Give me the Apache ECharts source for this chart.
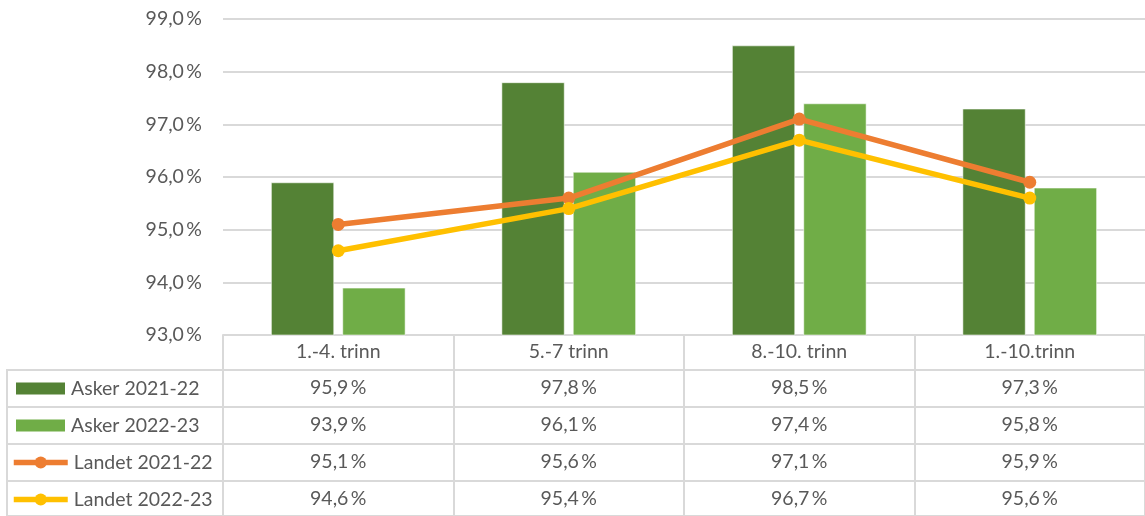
<!DOCTYPE html>
<html>
<head>
<meta charset="utf-8">
<script src="https://cdn.jsdelivr.net/npm/echarts@6/dist/echarts.min.js"></script>
<style>
  html, body { margin: 0; padding: 0; background: #ffffff; }
  #chart { width: 1145px; height: 516px; }
</style>
</head>
<body>
<div id="chart"></div>
<script>
// Attendance by school level (trinn), Asker vs. national figures
const categories = ['1.-4. trinn', '5.-7 trinn', '8.-10. trinn', '1.-10.trinn'];
const seriesNames = ['Asker 2021-22', 'Asker 2022-23', 'Landet 2021-22', 'Landet 2022-23'];
const asker2122 = [95.9, 97.8, 98.5, 97.3];
const asker2223 = [93.9, 96.1, 97.4, 95.8];
const landet2122 = [95.1, 95.6, 97.1, 95.9];
const landet2223 = [94.6, 95.4, 96.7, 95.6];
const yMin = 93, yMax = 99, yStep = 1;

const seriesValues = [asker2122, asker2223, landet2122, landet2223];
const colors = ['#548235', '#70AD47', '#ED7D31', '#FFC000'];

// layout of plot area and data table beneath it
const FONT = 'Lato, "Open Sans", sans-serif';
const TEXT = '#595959';
const RULE = '#d9d9d9';
const LINE_W = 5.5;
const plotLeft = 223, plotTop = 19, axisY = 335, pageH = 516;
const headerH = 35, rowH = 37, tableLeft = 7;
const rowTop = i => axisY + headerH + rowH * i;

const pct = v => v.toFixed(1).replace('.', ',') + '\u2009%';

const grids = [{ left: plotLeft, right: -2, top: plotTop, height: axisY - plotTop }];
seriesNames.forEach((_, i) => {
  grids.push({
    left: tableLeft, right: -2, top: rowTop(i), height: rowH,
    show: true, borderColor: RULE, borderWidth: 2, backgroundColor: 'transparent'
  });
});

// header axis: category names + column rules of the table
const xAxes = [{
  type: 'category', gridIndex: 0, position: 'bottom', data: categories,
  axisLine: { show: true, onZero: false, lineStyle: { color: RULE, width: 2 } },
  axisTick: { show: true, interval: 0, length: pageH - axisY + 4, lineStyle: { color: RULE, width: 2 } },
  axisLabel: { interval: 0, margin: 7, color: TEXT, fontSize: 19.5, fontFamily: FONT }
}];
// one axis per table row carrying that series' values
seriesValues.forEach((vals, i) => {
  xAxes.push({
    type: 'category', gridIndex: 0, position: 'bottom', data: categories,
    offset: rowTop(i) - axisY,
    axisLine: { show: false, onZero: false }, axisTick: { show: false },
    axisLabel: {
      interval: 0, margin: 8, color: TEXT, fontSize: 19.5, fontFamily: FONT,
      formatter: (v, idx) => pct(vals[idx])
    }
  });
});

// legend key in the first table column, one per row
const legends = seriesNames.map((name, i) => {
  const isBar = i < 2;
  const lg = {
    data: [name], orient: 'horizontal', padding: 0,
    left: isBar ? 16 : 11, top: rowTop(i) + rowH / 2 - 11,
    itemWidth: isBar ? 49 : 54, itemHeight: isBar ? 12 : 15,
    selectedMode: false,
    textStyle: { color: TEXT, fontSize: 19.5, fontFamily: FONT, lineHeight: 22, padding: [0, 0, 0, 1] }
  };
  if (isBar) {
    lg.icon = 'rect';
    lg.itemStyle = { color: colors[i], borderWidth: 0 };
  } else {
    lg.itemStyle = { color: colors[i], borderWidth: 0 };
    lg.lineStyle = { color: colors[i], width: LINE_W };
  }
  return lg;
});

const series = seriesNames.map((name, i) => {
  if (i < 2) {
    return {
      type: 'bar', name, data: seriesValues[i],
      barWidth: '27.5%', barGap: '12.6%',
      itemStyle: { color: colors[i], borderColor: 'rgba(255,255,255,0.55)', borderWidth: 1 }
    };
  }
  return {
    type: 'line', name, data: seriesValues[i], z: 3,
    symbol: 'circle', symbolSize: 13,
    itemStyle: { color: colors[i] },
    lineStyle: { color: colors[i], width: LINE_W }
  };
});

const chart = echarts.init(document.getElementById('chart'), null, { renderer: 'canvas' });
chart.setOption({
  animation: false,
  backgroundColor: '#ffffff',
  grid: grids,
  legend: legends,
  xAxis: xAxes,
  yAxis: [{
    type: 'value', gridIndex: 0, min: yMin, max: yMax, interval: yStep,
    axisLine: { show: false }, axisTick: { show: false },
    splitLine: { show: true, lineStyle: { color: RULE, width: 2 } },
    axisLabel: { margin: 21, color: TEXT, fontSize: 19.5, fontFamily: FONT, formatter: v => pct(v) }
  }],
  series
});
</script>
</body>
</html>
